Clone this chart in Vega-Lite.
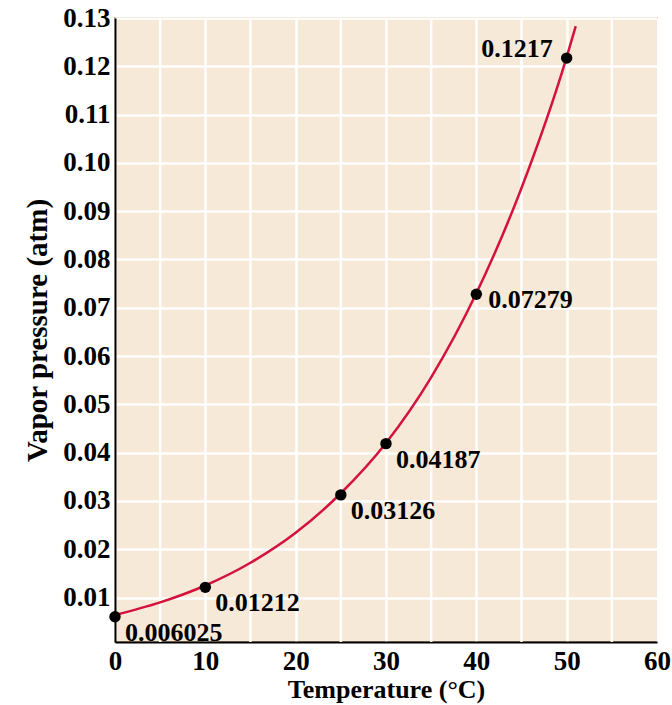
{
  "$schema": "https://vega.github.io/schema/vega-lite/v6.json",
  "autosize": "none",
  "padding": {"left": 115, "top": 18, "right": 15, "bottom": 63},
  "width": 542,
  "height": 624,
  "background": "white",
  "config": {
    "view": {"fill": "#f6e9d8", "stroke": "#c9a77a", "strokeWidth": 2},
    "font": "Liberation Serif"
  },
  "datasets": {
    "points": [
      {"temp": 0, "p": 0.006025, "label": "0.006025"},
      {"temp": 10, "p": 0.01212, "label": "0.01212"},
      {"temp": 25, "p": 0.03126, "label": "0.03126"},
      {"temp": 30, "p": 0.04187, "label": "0.04187"},
      {"temp": 40, "p": 0.07279, "label": "0.07279"},
      {"temp": 50, "p": 0.1217, "label": "0.1217"}
    ],
    "curve": [
      {"temp": 0, "p": 0.0064},
      {"temp": 5, "p": 0.0090},
      {"temp": 10, "p": 0.0125},
      {"temp": 15, "p": 0.0172},
      {"temp": 20, "p": 0.0234},
      {"temp": 25, "p": 0.0316},
      {"temp": 30, "p": 0.0420},
      {"temp": 35, "p": 0.0556},
      {"temp": 40, "p": 0.0730},
      {"temp": 45, "p": 0.0948},
      {"temp": 50, "p": 0.1219},
      {"temp": 51, "p": 0.1283}
    ]
  },
  "encoding": {
    "x": {
      "field": "temp", "type": "quantitative",
      "scale": {"domain": [0, 60], "nice": false},
      "axis": {
        "title": "Temperature (°C)",
        "values": [0, 10, 20, 30, 40, 50, 60],
        "gridColor": "white", "gridWidth": 2.5, "gridOpacity": 1,
        "domainColor": "black", "domainWidth": 2,
        "ticks": false, "labelPadding": 6, "labelFlush": false, "labelOverlap": false,
        "labelFont": "Liberation Serif", "labelFontWeight": "bold", "labelFontSize": 27, "labelColor": "black",
        "titleFont": "Liberation Serif", "titleFontWeight": "bold", "titleFontSize": 26, "titleColor": "black",
        "titlePadding": 2
      }
    },
    "y": {
      "field": "p", "type": "quantitative",
      "scale": {"domain": [0.0008, 0.13], "nice": false, "zero": false},
      "axis": {
        "title": "Vapor pressure (atm)",
        "values": [0.01, 0.02, 0.03, 0.04, 0.05, 0.06, 0.07, 0.08, 0.09, 0.10, 0.11, 0.12, 0.13],
        "format": ".2f",
        "gridColor": "white", "gridWidth": 2.5, "gridOpacity": 1,
        "domainColor": "black", "domainWidth": 2,
        "ticks": false, "labelPadding": 5, "labelFlush": false, "labelOverlap": false,
        "labelFont": "Liberation Serif", "labelFontWeight": "bold", "labelFontSize": 27, "labelColor": "black",
        "titleFont": "Liberation Serif", "titleFontWeight": "bold", "titleFontSize": 29, "titleColor": "black",
        "titlePadding": 10
      }
    }
  },
  "layer": [
    {
      "data": {"values": [{"temp": 5}, {"temp": 15}, {"temp": 25}, {"temp": 35}, {"temp": 45}, {"temp": 55}]},
      "mark": {"type": "rule", "color": "white", "strokeWidth": 2.5},
      "encoding": {"x": {"field": "temp", "type": "quantitative"}, "y": null}
    },
    {
      "data": {"name": "curve"},
      "mark": {"type": "line", "color": "#d4123e", "strokeWidth": 2.5, "interpolate": "monotone", "clip": false}
    },
    {
      "data": {"name": "points"},
      "mark": {"type": "circle", "color": "black", "opacity": 1, "size": 130}
    },
    {
      "data": {"name": "points"},
      "transform": [{"filter": "datum.temp <= 30"}],
      "mark": {"type": "text", "align": "left", "baseline": "middle", "dx": 10, "dy": 16, "font": "Liberation Serif", "fontWeight": "bold", "fontSize": 26, "color": "black"},
      "encoding": {"text": {"field": "label"}}
    },
    {
      "data": {"name": "points"},
      "transform": [{"filter": "datum.temp == 40"}],
      "mark": {"type": "text", "align": "left", "baseline": "middle", "dx": 12, "dy": 6, "font": "Liberation Serif", "fontWeight": "bold", "fontSize": 26, "color": "black"},
      "encoding": {"text": {"field": "label"}}
    },
    {
      "data": {"name": "points"},
      "transform": [{"filter": "datum.temp == 50"}],
      "mark": {"type": "text", "align": "right", "baseline": "middle", "dx": -14, "dy": -9, "font": "Liberation Serif", "fontWeight": "bold", "fontSize": 26, "color": "black"},
      "encoding": {"text": {"field": "label"}}
    }
  ]
}
